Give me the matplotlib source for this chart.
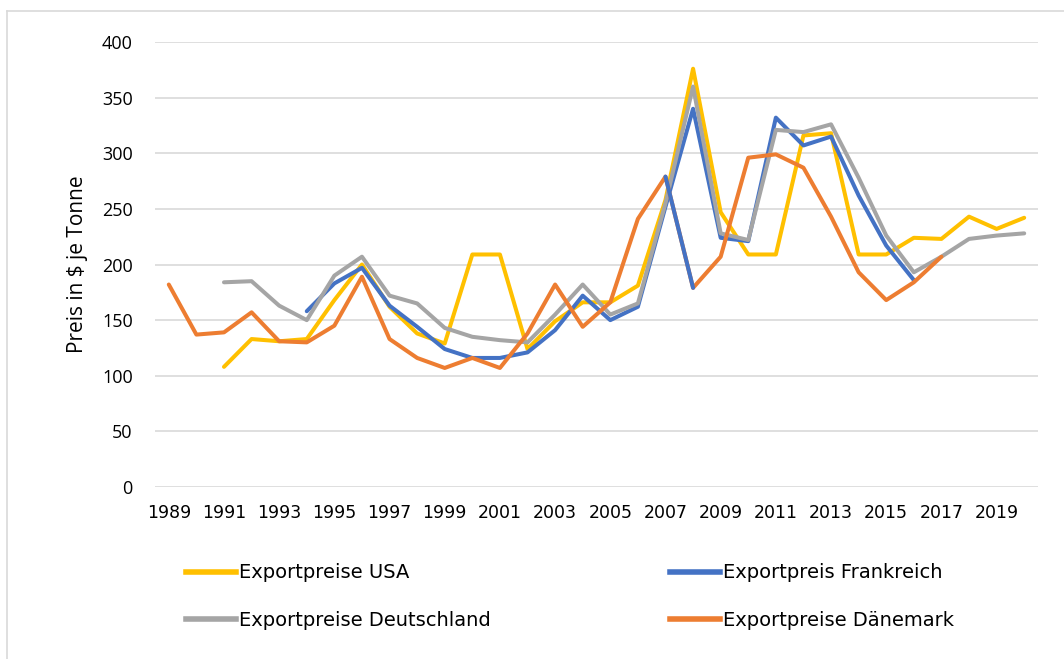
import numpy as np
import matplotlib.pyplot as plt
from matplotlib.lines import Line2D

# ============== data =============
nan = np.nan
years = list(range(1989, 2021))

usa = [nan, nan, 108, 133, 131, 133, 168, 200, 162, 138,
       129, 209, 209, 124, 149, 166, 166, 181, 258, 376,
       247, 209, 209, 316, 318, 209, 209, 224, 223, 243,
       232, 242]
frankreich = [nan, nan, nan, nan, nan, 158, 183, 197, 163, 144,
              124, 116, 116, 121, 141, 172, 150, 162, 252, 340,
              224, 221, 332, 307, 315, 262, 217, 186, nan, nan,
              nan, nan]
deutschland = [nan, nan, 184, 185, 163, 150, 190, 207, 172, 165,
               143, 135, 132, 130, 155, 182, 155, 165, 255, 360,
               228, 222, 321, 319, 326, 278, 226, 193, 207, 223,
               226, 228]
daenemark = [182, 137, 139, 157, 131, 130, 145, 189, 133, 116,
             107, 116, 107, 138, 182, 144, 166, 241, 279, 179,
             207, 296, 299, 287, 243, 193, 168, 184, 207, nan,
             nan, nan]

# ============== style =============
USA_COLOR = "#FFC000"
FR_COLOR = "#4472C4"
DE_COLOR = "#A5A5A5"
DK_COLOR = "#ED7D31"
GRID_COLOR = "#D9D9D9"
LW = 2.9

FONT = ["Open Sans", "DejaVu Sans"]

W, H = 1064, 659
fig = plt.figure(figsize=(W / 100, H / 100), dpi=100)
ax = fig.add_axes([155 / W, 1 - 487 / H, (1038 - 155) / W, (487 - 42) / H])

x = np.arange(len(years))
ax.plot(x, usa, color=USA_COLOR, lw=LW, solid_capstyle="round", solid_joinstyle="round", zorder=3)
ax.plot(x, frankreich, color=FR_COLOR, lw=LW, solid_capstyle="round", solid_joinstyle="round", zorder=4)
ax.plot(x, deutschland, color=DE_COLOR, lw=LW, solid_capstyle="round", solid_joinstyle="round", zorder=5)
ax.plot(x, daenemark, color=DK_COLOR, lw=LW, solid_capstyle="round", solid_joinstyle="round", zorder=6)
# Segment 2007-2008 der Dänemark-Reihe ist blau formatiert
i07 = years.index(2007)
ax.plot(x[i07:i07 + 2], daenemark[i07:i07 + 2], color=FR_COLOR, lw=LW,
        solid_capstyle="round", zorder=6.5)

ax.set_xlim(-0.5, len(years) - 0.5)
ax.set_ylim(0, 400)
ax.set_yticks(range(0, 401, 50))
ax.set_xticks(x[::2])
ax.set_xticklabels([str(y) for y in years[::2]], fontsize=12.5)
ax.tick_params(axis="y", labelsize=13, length=0, pad=16)
ax.tick_params(axis="x", length=0, pad=12)
for lab in ax.get_yticklabels():
    lab.set_family(FONT)

ax.grid(axis="y", color=GRID_COLOR, lw=1.2)
ax.set_axisbelow(True)
for s in ax.spines.values():
    s.set_visible(False)

ax.set_ylabel("Preis in $ je Tonne", fontsize=15, family=FONT, labelpad=10)

# legend: Zeilen USA/Frankreich, Deutschland/Dänemark
handles = [Line2D([], [], color=c, lw=4) for c in (USA_COLOR, DE_COLOR, FR_COLOR, DK_COLOR)]
labels = ["Exportpreise USA", "Exportpreise Deutschland", "Exportpreis Frankreich", "Exportpreise Dänemark"]
fig.legend(handles, labels, loc="upper left", bbox_to_anchor=(168 / W, 1 - 546 / H), ncol=2,
           frameon=False, handlelength=2.6, handletextpad=0.15, columnspacing=9.2, labelspacing=1.45,
           prop={"size": 14})

# Rahmen des Diagrammbereichs
fig.add_artist(plt.Line2D([7 / W, 7 / W], [0, 1 - 11 / H], color=GRID_COLOR, lw=1.2))
fig.add_artist(plt.Line2D([7 / W, 1], [1 - 11 / H, 1 - 11 / H], color=GRID_COLOR, lw=1.2))

plt.savefig("out.png", dpi=100)
